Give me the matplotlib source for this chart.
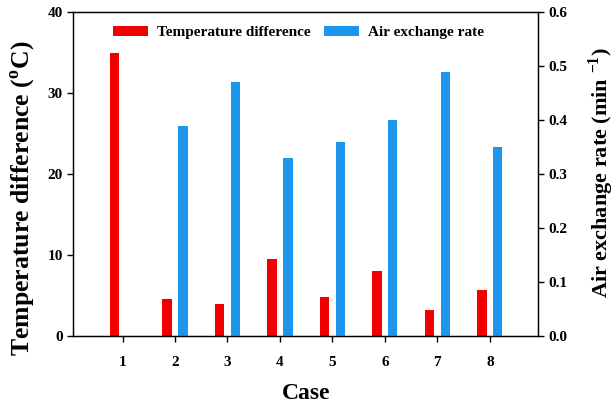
import numpy as np
import matplotlib
matplotlib.use("Agg")
import matplotlib.pyplot as plt

plt.rcParams['font.family'] = ['Liberation Serif', 'DejaVu Serif']
plt.rcParams['font.weight'] = 'bold'
plt.rcParams['mathtext.fontset'] = 'custom'
plt.rcParams['mathtext.rm'] = 'Liberation Serif:bold'
plt.rcParams['mathtext.bf'] = 'Liberation Serif:bold'

cases = [1, 2, 3, 4, 5, 6, 7, 8]
temp_diff = [34.9, 4.6, 3.95, 9.55, 4.85, 8.0, 3.17, 5.68]
air_rate = [np.nan, 0.39, 0.47, 0.33, 0.36, 0.40, 0.49, 0.35]

red = '#f00000'
blue = '#1a96ea'
w = 0.18
off = 0.15

fig = plt.figure(figsize=(6.15, 4.05), dpi=100)
ax = fig.add_axes([0.119, 0.170, 0.756, 0.800])
ax2 = ax.twinx()

x = np.array(cases)
b1 = ax.bar(x - off, temp_diff, width=w, color=red, label='Temperature difference')
b2 = ax2.bar(x + off, air_rate, width=w, color=blue, label='Air exchange rate')

ax.set_xlim(0.06, 8.92)
ax.set_ylim(0, 40)
ax2.set_ylim(0, 0.6)
ax.set_xticks(cases)
ax.set_yticks([0, 10, 20, 30, 40])
ax2.set_yticks([0.0, 0.1, 0.2, 0.3, 0.4, 0.5, 0.6])
ax2.set_yticklabels(['%.1f' % v for v in [0.0, 0.1, 0.2, 0.3, 0.4, 0.5, 0.6]])

for a in (ax, ax2):
    a.tick_params(direction='out', length=4, width=1, labelsize=11)
    for s in a.spines.values():
        s.set_linewidth(0.9)
ax.tick_params(axis='x', pad=10)

ax.set_xlabel('Case', fontsize=17, fontweight='bold')
ax.xaxis.set_label_coords(0.5, -0.145)
ax.set_ylabel(r'Temperature difference ($^{\mathregular{o}}$C)', fontsize=18.5, fontweight='bold')
ax.yaxis.set_label_coords(-0.077, 0.427)
ax2.set_ylabel(r'Air exchange rate (min $^{\mathregular{-1}}$)', fontsize=16, fontweight='bold',
               rotation=90)
ax2.yaxis.set_label_coords(1.103, 0.506)

ax.legend(handles=[b1, b2], loc='upper center', ncol=2, frameon=False, fontsize=11,
          bbox_to_anchor=(0.484, 1.0), handlelength=2.3, handleheight=0.65,
          handletextpad=0.6, columnspacing=0.85)

fig.savefig('out.png', dpi=100)
